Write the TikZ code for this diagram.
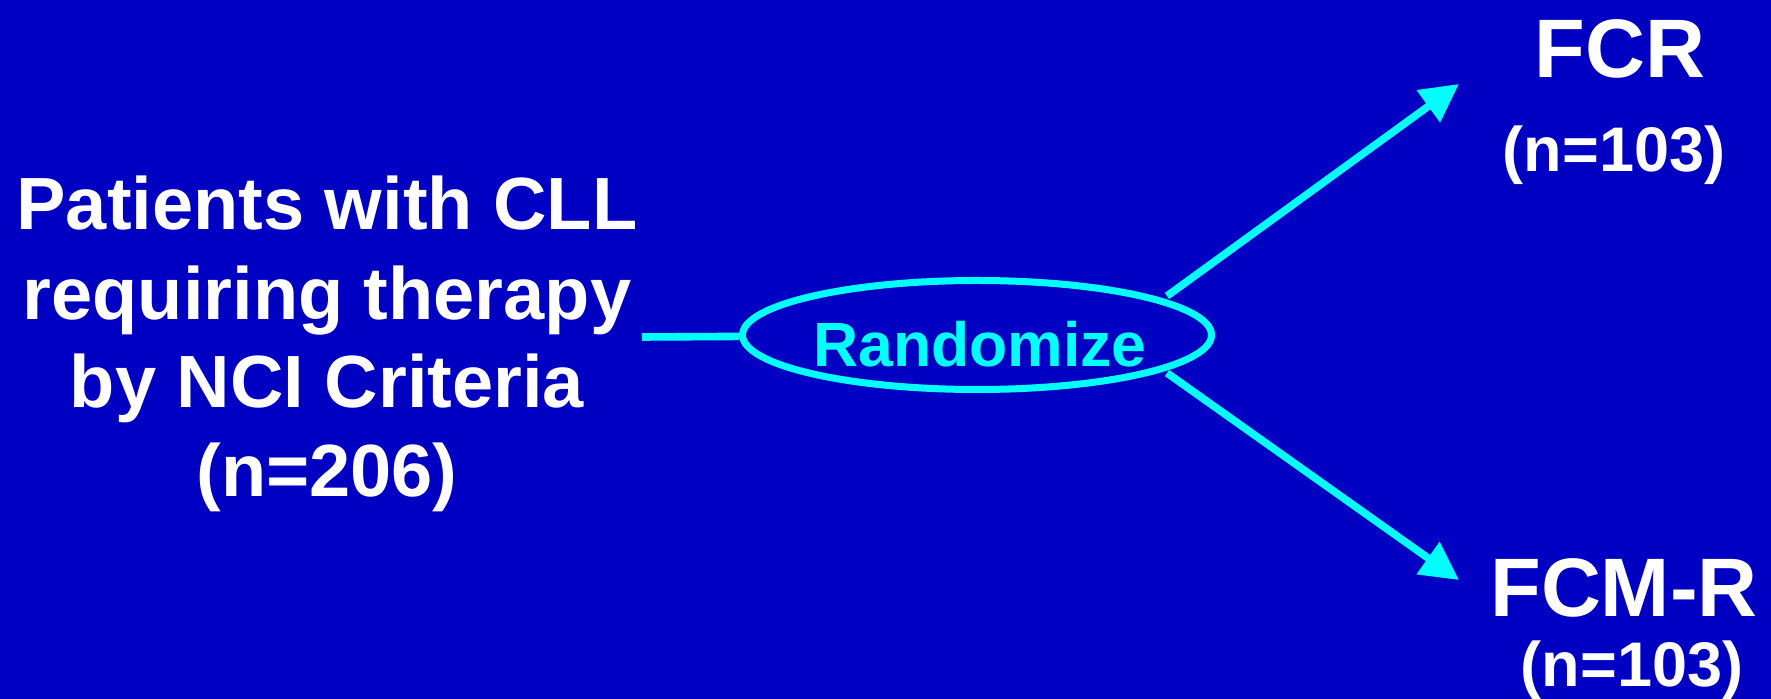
\documentclass[tikz,border=0pt]{standalone}
\usepackage{fontspec}
\setmainfont{Liberation Sans}
\usetikzlibrary{arrows.meta,shapes.geometric}
\definecolor{bgblue}{RGB}{0,0,195}
\definecolor{cyanline}{RGB}{0,255,255}
\tikzset{
  txt/.style={text=white, inner sep=0pt, anchor=base, align=center},
  conn/.style={draw=cyanline, line width=3.8pt},
  arr/.style={conn, -{Triangle[length=19pt,width=19pt]}},
}
\begin{document}
\begin{tikzpicture}[x=0.5pt,y=-0.5pt]
\fill[bgblue] (0,0) rectangle (1771,699);
\useasboundingbox (0,0) rectangle (1771,699);
\node[txt, font=\fontsize{37}{44.5}\selectfont\bfseries] (pat) at (327,497)
  {Patients with CLL\\requiring therapy\\by NCI Criteria\\(n=206)};
\node[draw=cyanline, line width=3.5pt, ellipse, minimum width=234.5pt, minimum height=54.5pt, inner sep=0pt] (rand) at (977,335) {};
\node[txt, text=cyanline, font=\fontsize{31.25}{36}\selectfont\bfseries] (randtxt) at (980,367) {Randomize};
\node[txt, font=\fontsize{41.5}{48}\selectfont\bfseries] (fcr) at (1620,78) {FCR};
\node[txt, font=\fontsize{31.5}{36}\selectfont\bfseries] (fcrn) at (1614,172) {(n=103)};
\node[txt, font=\fontsize{41.5}{48}\selectfont\bfseries] (fcm) at (1624,616) {FCM-R};
\node[txt, font=\fontsize{31.5}{36}\selectfont\bfseries] (fcmn) at (1632,686) {(n=103)};
\coordinate (lstart) at (642,337);
\coordinate (us) at (1167,296);
\coordinate (ue) at (1459,84);
\coordinate (ls) at (1167,373);
\coordinate (le) at (1459,580);
\draw[conn] (lstart) -- (rand);
\draw[arr] (us) -- (ue);
\draw[arr] (ls) -- (le);
\end{tikzpicture}
\end{document}
